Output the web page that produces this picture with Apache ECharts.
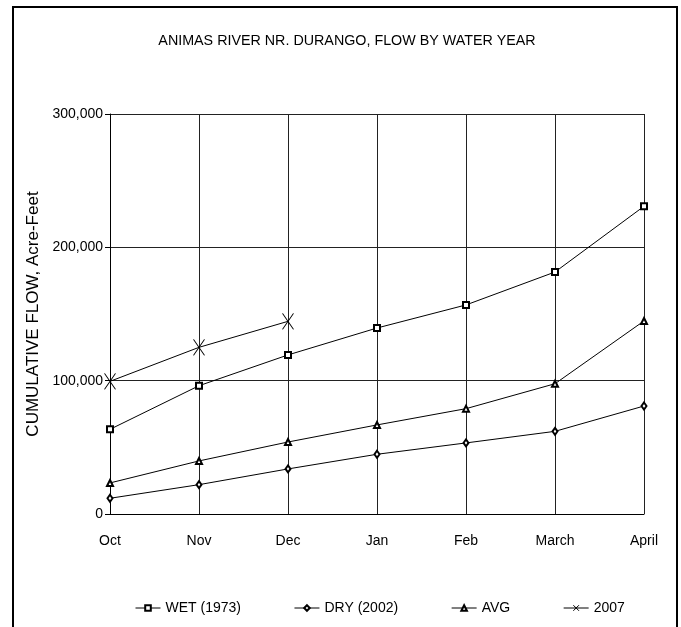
<!DOCTYPE html>
<html>
<head>
<meta charset="utf-8">
<script src="https://cdn.jsdelivr.net/npm/echarts@6/dist/echarts.min.js"></script>
<style>html,body{margin:0;padding:0;background:#fff}#c{width:681px;height:627px}</style>
</head>
<body>
<div id="c"></div>
<script>
const categories = ['Oct', 'Nov', 'Dec', 'Jan', 'Feb', 'March', 'April'];
const wet1973 = [63500, 96200, 119300, 139500, 156800, 181500, 230800];
const dry2002 = [11800, 22000, 33800, 44800, 53300, 62000, 81000];
const avg = [23300, 39800, 54000, 66800, 79000, 97700, 144800];
const y2007 = [99500, 125000, 144500];
const yTicks = [0, 100000, 200000, 300000];

const NARROW = "'Liberation Sans', Arial, sans-serif";
const REG = "'Liberation Sans', Arial, sans-serif";

const chart = echarts.init(document.getElementById('c'), null, {renderer: 'canvas'});
const xPath = 'path://M0,0L10,14M10,0L0,14';
function mk(name, data, symbol, size) {
  return {
    name: name, type: 'line', data: data, symbol: symbol, symbolSize: size,
    showAllSymbol: true, animation: false,
    lineStyle: {color: '#000', width: 1},
    itemStyle: {color: '#000', borderColor: '#000', borderWidth: 1},
    emphasis: {disabled: true}
  };
}
chart.setOption({
  animation: false,
  backgroundColor: '#fff',
  color: ['#000'],
  title: {
    text: 'ANIMAS RIVER NR. DURANGO, FLOW BY WATER YEAR',
    left: 347, top: 34, textAlign: 'center', padding: 0,
    textStyle: {fontFamily: NARROW, fontSize: 14.3, fontWeight: 'normal', color: '#000'}
  },
  graphic: [{
    type: 'rect', shape: {x: 13, y: 7, width: 664, height: 640},
    style: {fill: 'none', stroke: '#000', lineWidth: 2}, silent: true, z: 100
  }],
  grid: {left: 110, right: 37, top: 114, bottom: 113, containLabel: false},
  legend: {
    left: 135, top: 601, padding: 0, itemGap: 53, itemWidth: 25, itemHeight: 7,
    lineStyle: {width: 1},
    itemStyle: {borderWidth: 1},
    textStyle: {fontFamily: NARROW, fontSize: 14, color: '#000'},
    data: ['WET (1973)', 'DRY (2002)', 'AVG', '2007']
  },
  xAxis: {
    type: 'category', data: categories, boundaryGap: false,
    axisLine: {show: true, lineStyle: {color: '#000', width: 1}},
    axisTick: {show: false},
    axisLabel: {fontFamily: NARROW, fontSize: 14, color: '#000', margin: 20},
    splitLine: {show: true, lineStyle: {color: '#222', width: 1}}
  },
  yAxis: {
    type: 'value', min: yTicks[0], max: yTicks[yTicks.length - 1], interval: 100000,
    name: 'CUMULATIVE FLOW, Acre-Feet', nameLocation: 'middle', nameGap: 60,
    nameTextStyle: {fontFamily: REG, fontSize: 17, color: '#000'},
    axisLine: {show: true, lineStyle: {color: '#000', width: 1}},
    axisTick: {show: true, inside: false, length: 5, lineStyle: {color: '#000'}},
    axisLabel: {fontFamily: NARROW, fontSize: 14, color: '#000', margin: 7,
      formatter: v => v.toLocaleString('en-US')},
    splitLine: {show: true, lineStyle: {color: '#222', width: 1}}
  },
  series: [
    mk('WET (1973)', wet1973, 'emptyRect', 6),
    mk('DRY (2002)', dry2002, 'emptyDiamond', [5, 7]),
    mk('AVG', avg, 'emptyTriangle', 6),
    mk('2007', y2007, xPath, [11, 16])
  ]
});
</script>
</body>
</html>
